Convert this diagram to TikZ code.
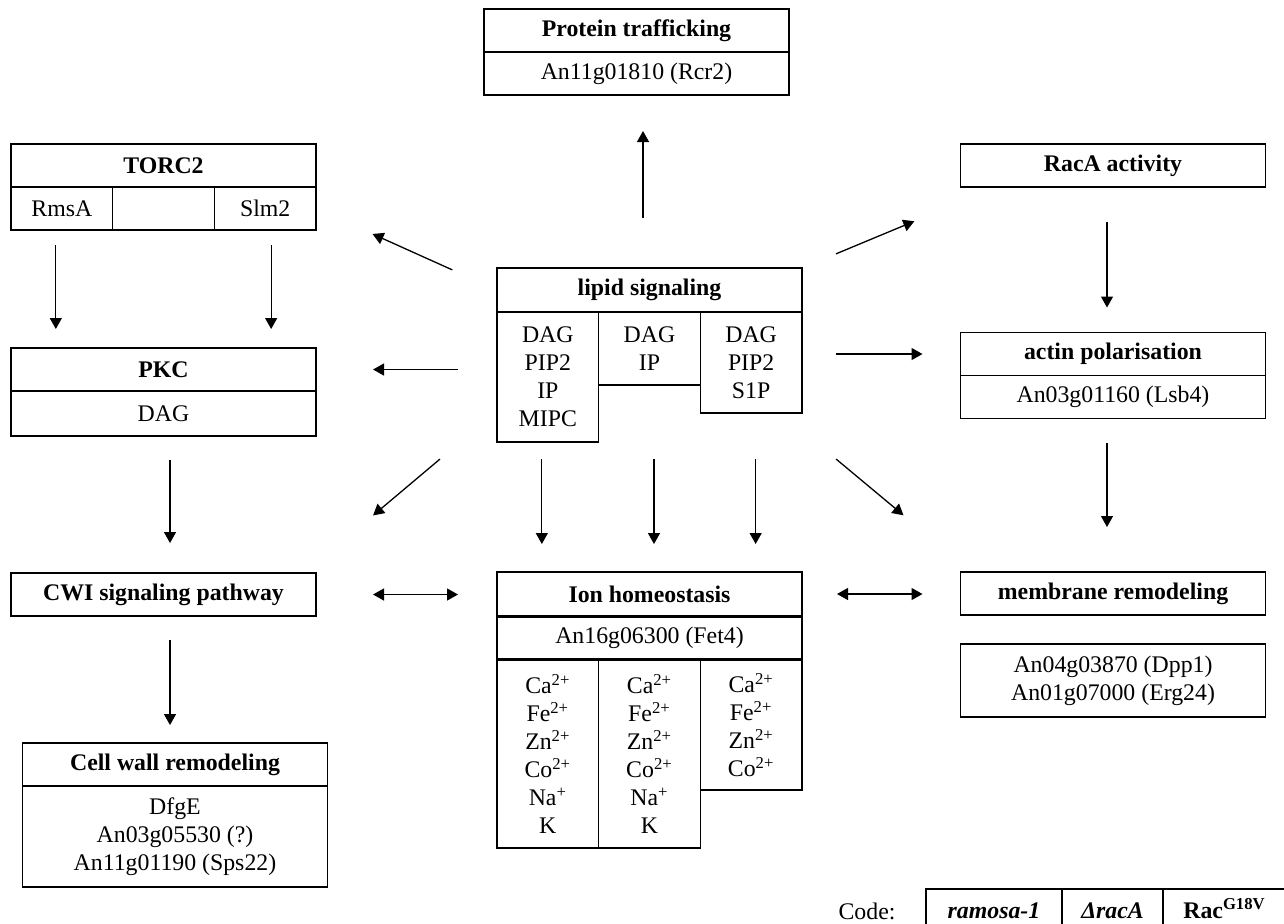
\documentclass[tikz,border=0pt]{standalone}
\usepackage{fontspec}
\setmainfont{Liberation Serif}
\usepackage{tikz}
\usetikzlibrary{arrows.meta, positioning}
\newcommand{\figfont}{\fontsize{11.9}{14}\selectfont}
\tikzset{
    headbox/.style={rectangle, draw, line width=0.65pt, minimum width=152.5pt, minimum height=21.5pt,
        inner sep=0pt, outer sep=0pt, text centered, font=\figfont\bfseries},
    genebox/.style={rectangle, draw, line width=0.65pt, minimum width=152.5pt, minimum height=21.5pt,
        inner sep=0pt, outer sep=0pt, align=center, font=\figfont},
    colbox/.style={rectangle, draw, line width=0.65pt, minimum width=50.83pt,
        inner sep=0pt, outer sep=0pt, align=center, anchor=north west, font=\figfont},
    codebox/.style={rectangle, draw, line width=0.65pt, minimum height=23pt, text height=8.5pt, text depth=2.5pt,
        inner sep=0pt, outer sep=0pt, font=\figfont\bfseries},
    arrowline/.style={-{Triangle[length=5.5pt, width=6pt]}, line width=0.65pt},
    twoline/.style={{Triangle[length=5.5pt, width=6pt]}-{Triangle[length=5.5pt, width=6pt]}, line width=0.65pt},
}

\begin{document}
\begin{tikzpicture}[x=0.5pt, y=-0.5pt, font=\figfont]
    \useasboundingbox (0,0) rectangle (1284,923);
    \clip (0,0) rectangle (1284,923);

    % top
    \node[headbox] (trafT) at (636.5,30.5) {Protein trafficking};
    \node[genebox, below=0pt of trafT] (trafG) {An11g01810 (Rcr2)};

    % left column
    \node[headbox] (torcT) at (163.5,165.5) {TORC2};
    \node[colbox, minimum height=21.5pt] (rmsA) at (torcT.south west) {RmsA};
    \node[colbox, minimum height=21.5pt] (torcM) at (rmsA.north east) {};
    \node[colbox, minimum height=21.5pt] (slm2) at (torcM.north east) {Slm2};

    \node[headbox] (pkcT) at (163.5,369.5) {PKC};
    \node[genebox, below=0pt of pkcT, minimum height=22.5pt] (pkcG) {DAG};

    \node[headbox] (cwi) at (163.5,594.5) {CWI signaling pathway};

    \node[headbox] (cellT) at (175,764.5) {Cell wall remodeling};
    \node[genebox, below=0pt of cellT, minimum height=50.5pt] (cellG) {DfgE\\An03g05530 (?)\\An11g01190 (Sps22)};

    % centre column
    \node[headbox, minimum height=22pt] (lipT) at (649.5,290) {lipid signaling};
    \node[colbox, minimum height=65pt] (lipL) at (lipT.south west) {DAG\\PIP2\\IP\\MIPC};
    \node[colbox, minimum height=36.5pt] (lipM) at (lipL.north east) {DAG\\IP};
    \node[colbox, minimum height=50.5pt] (lipR) at (lipM.north east) {DAG\\PIP2\\S1P};

    \node[headbox, minimum height=22pt] (ionT) at (649.5,594) {Ion homeostasis};
    \node[genebox, below=0.5pt of ionT, minimum height=21pt] (ionG) {An16g06300 (Fet4)};
    \node[colbox, minimum height=94pt, below=0.5pt of ionG.south west, anchor=north west] (ionA)
        {Ca\textsuperscript{2+}\\Fe\textsuperscript{2+}\\Zn\textsuperscript{2+}\\Co\textsuperscript{2+}\\Na\textsuperscript{+}\\K};
    \node[colbox, minimum height=94pt] (ionB) at (ionA.north east)
        {Ca\textsuperscript{2+}\\Fe\textsuperscript{2+}\\Zn\textsuperscript{2+}\\Co\textsuperscript{2+}\\Na\textsuperscript{+}\\K};
    \node[colbox, minimum height=65pt] (ionC) at (ionB.north east)
        {Ca\textsuperscript{2+}\\Fe\textsuperscript{2+}\\Zn\textsuperscript{2+}\\Co\textsuperscript{2+}};

    % right column
    \node[headbox] (racA) at (1113,165.5) {RacA activity};
    \node[headbox] (actT) at (1113,354) {actin polarisation};
    \node[genebox, below=0pt of actT] (actG) {An03g01160 (Lsb4)};
    \node[headbox] (memT) at (1113,593.5) {membrane remodeling};
    \node[genebox, below=14.5pt of memT, minimum height=36.5pt] (memG) {An04g03870 (Dpp1)\\An01g07000 (Erg24)};

    % code legend
    \node (code) at (867,911) {Code:};
    \node[codebox, minimum width=68pt, anchor=north west] (codeA) at (926,889) {\textit{ramosa-1}};
    \node[codebox, minimum width=50.5pt, right=0pt of codeA] (codeB) {\textit{ΔracA}};
    \node[codebox, minimum width=61.5pt, right=0pt of codeB] (codeC) {Rac\textsuperscript{G18V}};

    % arrows out of lipid signaling
    \draw[arrowline, shorten <=25pt, shorten >=18pt] ([xshift=-3.25pt]lipT.north) -- ([xshift=3.25pt]trafG.south);
    \draw[arrowline, shorten <=24.5pt, shorten >=31pt] (lipT.west) -- (slm2.east);
    \draw[arrowline, shorten <=19.5pt, shorten >=28.5pt] (pkcT.east -| lipL.west) -- (pkcT.east);
    \draw[arrowline, shorten <=37.3pt, shorten >=37.3pt] ([yshift=15.5pt]lipL.south west) -- ([yshift=15.5pt]cwi.east);
    \draw[arrowline, shorten <=8.5pt, shorten >=14pt] ([xshift=-3pt]lipL.south) -- ([xshift=-3pt]lipL.south |- ionT.north);
    \draw[arrowline, shorten <=37pt, shorten >=14pt] ([xshift=2.25pt]lipM.south) -- ([xshift=2.25pt]lipM.south |- ionT.north);
    \draw[arrowline, shorten <=23pt, shorten >=14pt] ([xshift=2.25pt]lipR.south) -- ([xshift=2.25pt]lipR.south |- ionT.north);
    \draw[arrowline, shorten <=18.4pt, shorten >=25pt] (lipT.north east) -- ([yshift=-7.5pt]racA.south west);
    \draw[arrowline, shorten <=17pt, shorten >=19pt] (actT.west -| lipR.east) -- (actT.west);
    \draw[arrowline, shorten <=22.2pt, shorten >=37.1pt] ([yshift=-8.8pt]lipR.south east) -- ([yshift=4.6pt]memT.north west);

    % arrows down the sides
    \draw[arrowline, shorten <=7.5pt, shorten >=9.5pt] ([xshift=-3pt]rmsA.south) -- ([xshift=-3pt]rmsA.south |- pkcT.north);
    \draw[arrowline, shorten <=7.5pt, shorten >=9.5pt] ([xshift=3pt]slm2.south) -- ([xshift=3pt]slm2.south |- pkcT.north);
    \draw[arrowline, shorten <=12pt, shorten >=15pt] ([xshift=3.25pt]pkcG.south) -- ([xshift=3.25pt]pkcG.south |- cwi.north);
    \draw[arrowline, shorten <=12pt, shorten >=9pt] ([xshift=3.25pt]cwi.south) -- ([xshift=3.25pt]cwi.south |- cellT.north);
    \draw[arrowline, shorten <=17.5pt, shorten >=12.5pt] ([xshift=-3pt]racA.south) -- ([xshift=-3pt]racA.south |- actT.north);
    \draw[arrowline, shorten <=12pt, shorten >=22.5pt] ([xshift=-3pt]actG.south) -- ([xshift=-3pt]actG.south |- memT.north);

    % two-way arrows
    \draw[twoline, shorten <=28.5pt, shorten >=19.5pt] (cwi.east) -- (cwi.east -| ionT.west);
    \draw[twoline, shorten <=17.5pt, shorten >=19pt] (ionT.east) -- (ionT.east -| memT.west);
\end{tikzpicture}
\end{document}
